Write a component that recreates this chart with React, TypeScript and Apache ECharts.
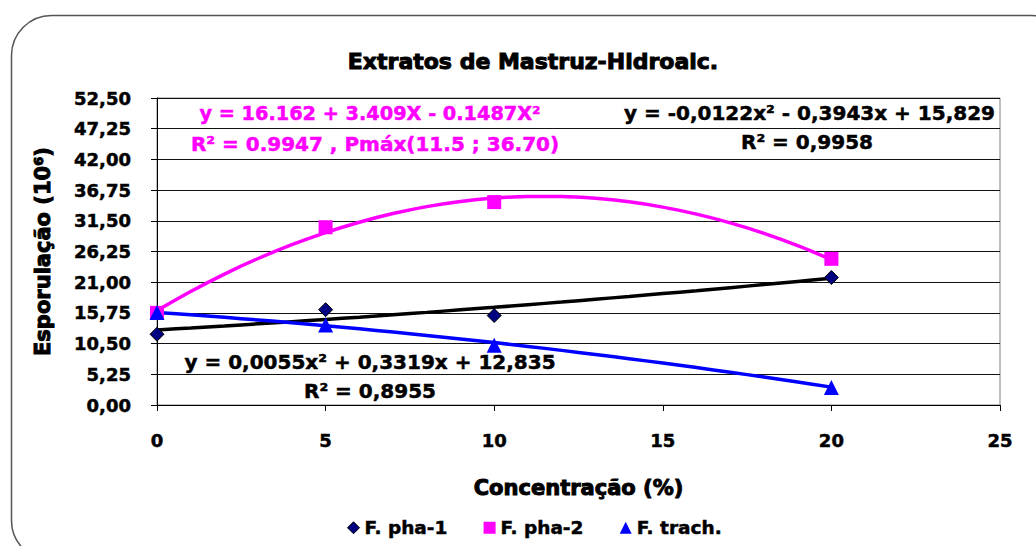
import React, { useEffect, useRef } from 'react';
import * as echarts from 'echarts';

const concentrations = [0, 5, 10, 20];
const pha1 = [12.1, 16.3, 15.3, 21.8];
const pha2 = [15.75, 30.4, 34.7, 25.0];
const trach = [15.8, 13.7, 10.2, 3.0];

const trendX = [0, 1, 2, 3, 4, 5, 6, 7, 8, 9, 10, 11, 12, 13, 14, 15, 16, 17, 18, 19, 20];
const trendPha1 = [12.84, 13.17, 13.52, 13.88, 14.25, 14.63, 15.02, 15.43, 15.84, 16.27, 16.7, 17.15, 17.61, 18.08, 18.56, 19.05, 19.55, 20.07, 20.59, 21.13, 21.67];
const trendPha2 = [16.16, 19.42, 22.39, 25.05, 27.42, 29.49, 31.26, 32.74, 33.92, 34.8, 35.38, 35.67, 35.66, 35.35, 34.74, 33.84, 32.64, 31.14, 29.35, 27.25, 24.86];
const trendTrach = [15.83, 15.42, 14.99, 14.54, 14.06, 13.55, 13.02, 12.47, 11.89, 11.29, 10.67, 10.02, 9.34, 8.64, 7.92, 7.17, 6.4, 5.6, 4.78, 3.93, 3.06];

const seriesNames = ['F. pha-1', 'F. pha-2', 'F. trach.'];
const titleText = 'Extratos de Mastruz-Hidroalc.';
const xName = 'Concentração (%)';
const yName = 'Esporulação (10⁶)';
const eqPha2a = 'y = 16.162 + 3.409X - 0.1487X²';
const eqPha2b = 'R² = 0.9947 , Pmáx(11.5 ; 36.70)';
const eqTrachA = 'y = -0,0122x² - 0,3943x + 15,829';
const eqTrachB = 'R² = 0,9958';
const eqPha1a = 'y = 0,0055x² + 0,3319x + 12,835';
const eqPha1b = 'R² = 0,8955';

const FONT = '"DejaVu Sans", "Liberation Sans", Arial, sans-serif';

export default function App() {
  const ref = useRef<HTMLDivElement>(null);
  useEffect(() => {
    if (!ref.current) return;
    const chart = echarts.init(ref.current, null, { renderer: 'svg' });
    const pair = (xs: number[], ys: number[]) => xs.map((x, i) => [x, ys[i]]);
    const eqStyle = (color: string, size: number) => ({
      fill: color, font: `bold ${size}px ${FONT}`, stroke: color, lineWidth: 0.5,
    });
    const heavy = { fontFamily: FONT, fontWeight: 'bold', color: '#000', textBorderColor: '#000', textBorderWidth: 0.5 };
    chart.setOption({
      animation: false,
      backgroundColor: '#fff',
      title: {
        text: titleText,
        left: 528,
        textAlign: 'center',
        top: 45,
        textStyle: { ...heavy, fontSize: 22, textBorderWidth: 1 },
      },
      grid: {
        left: 157, right: 36, top: 98, bottom: 141,
        show: true, borderColor: '#808080', borderWidth: 1, backgroundColor: 'transparent',
      },
      legend: {
        data: [
          { name: seriesNames[0], icon: 'diamond', itemStyle: { color: '#000080', borderColor: '#000', borderWidth: 1 } },
          { name: seriesNames[1], icon: 'rect' },
          { name: seriesNames[2], icon: 'triangle' },
        ],
        left: 342, top: 513,
        itemWidth: 12, itemHeight: 12, itemGap: 36,
        textStyle: { ...heavy, fontSize: 18.5 },
      },
      xAxis: {
        type: 'value', min: 0, max: 25, interval: 5,
        name: xName, nameLocation: 'middle', nameGap: 72,
        nameTextStyle: { ...heavy, fontSize: 21, textBorderWidth: 1 },
        axisLine: { show: true, lineStyle: { color: '#000', width: 1 } },
        axisTick: { show: true, length: 6, lineStyle: { color: '#000' } },
        axisLabel: { ...heavy, margin: 26, fontSize: 18 },
        splitLine: { show: false },
      },
      yAxis: {
        type: 'value', min: 0, max: 52.5, interval: 5.25,
        name: yName, nameLocation: 'middle', nameGap: 104, nameRotate: 90,
        nameTextStyle: { ...heavy, fontSize: 21, textBorderWidth: 1 },
        axisLine: { show: true, lineStyle: { color: '#000', width: 1 } },
        axisTick: { show: true, length: 6, lineStyle: { color: '#000' } },
        axisLabel: {
          ...heavy, margin: 26, fontSize: 18,
          formatter: (v: number) => v.toFixed(2).replace('.', ','),
        },
        splitLine: { show: true, lineStyle: { color: '#111', width: 1 } },
      },
      series: [
        {
          name: 'trend-pha1', type: 'line', data: pair(trendX, trendPha1), smooth: 0.3,
          showSymbol: false, lineStyle: { color: '#000', width: 3.5 }, silent: true, z: 2,
        },
        {
          name: 'trend-pha2', type: 'line', data: pair(trendX, trendPha2), smooth: 0.3,
          showSymbol: false, lineStyle: { color: '#FF00FF', width: 3.5 }, silent: true, z: 2,
        },
        {
          name: 'trend-trach', type: 'line', data: pair(trendX, trendTrach), smooth: 0.3,
          showSymbol: false, lineStyle: { color: '#0000FF', width: 3.5 }, silent: true, z: 2,
        },
        {
          name: seriesNames[0], type: 'scatter', data: pair(concentrations, pha1),
          symbol: 'diamond', symbolSize: 14,
          itemStyle: { color: '#000080', borderColor: '#000', borderWidth: 1, opacity: 1 }, z: 3,
        },
        {
          name: seriesNames[1], type: 'scatter', data: pair(concentrations, pha2),
          symbol: 'rect', symbolSize: 14,
          itemStyle: { color: '#FF00FF', opacity: 1 }, z: 3,
        },
        {
          name: seriesNames[2], type: 'scatter', data: pair(concentrations, trach),
          symbol: 'triangle', symbolSize: 15,
          itemStyle: { color: '#0000FF', opacity: 1 }, z: 3,
        },
      ],
      graphic: [
        {
          type: 'rect', left: 9, top: 13, z: -10, silent: true,
          shape: { width: 1060, height: 545, r: 40 },
          style: { fill: 'none', stroke: '#555', lineWidth: 1.5 },
        },
        { type: 'text', x: 370, y: 113, z: 10, style: { ...eqStyle('#FF00FF', 19.3), text: eqPha2a, align: 'center', verticalAlign: 'middle' } },
        { type: 'text', x: 375, y: 144, z: 10, style: { ...eqStyle('#FF00FF', 20), text: eqPha2b, align: 'center', verticalAlign: 'middle' } },
        { type: 'text', x: 995, y: 113, z: 10, style: { ...eqStyle('#000', 20), text: eqTrachA, align: 'right', verticalAlign: 'middle' } },
        { type: 'text', x: 807, y: 142, z: 10, style: { ...eqStyle('#000', 20), text: eqTrachB, align: 'center', verticalAlign: 'middle' } },
        { type: 'text', x: 370, y: 362, z: 10, style: { ...eqStyle('#000', 20), text: eqPha1a, align: 'center', verticalAlign: 'middle' } },
        { type: 'text', x: 370, y: 391, z: 10, style: { ...eqStyle('#000', 20), text: eqPha1b, align: 'center', verticalAlign: 'middle' } },
      ],
    });
    return () => chart.dispose();
  }, []);
  return <div ref={ref} style={{ position: 'fixed', left: 0, top: 0, width: 1036, height: 546 }} />;
}
